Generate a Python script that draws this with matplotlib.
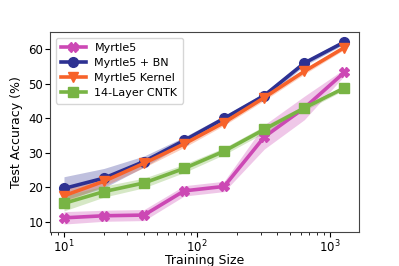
import matplotlib
matplotlib.use("Agg")
import matplotlib.pyplot as plt
import numpy as np

sizes = [10, 20, 40, 80, 160, 320, 640, 1280]

myrtle5 = [11.2, 11.8, 12.0, 19.0, 20.3, 34.6, 43.0, 53.3]
myrtle5_std = [1.8, 1.6, 1.6, 1.5, 1.5, 3.5, 3.4, 1.0]

myrtle5_bn = [19.7, 22.7, 27.5, 33.6, 40.0, 46.6, 56.0, 62.1]
myrtle5_bn_std = [3.4, 2.8, 1.6, 1.0, 0.8, 0.8, 0.8, 0.6]

myrtle5_kernel = [17.6, 21.8, 27.0, 32.6, 38.8, 46.0, 53.6, 60.5]
myrtle5_kernel_std = [1.8, 1.4, 1.2, 1.0, 0.8, 0.8, 0.8, 0.6]

cntk = [15.4, 18.8, 21.3, 25.5, 30.5, 36.8, 43.0, 48.8]
cntk_std = [2.2, 1.6, 1.4, 1.2, 1.0, 1.0, 0.8, 0.6]

labels = ["Myrtle5", "Myrtle5 + BN", "Myrtle5 Kernel", "14-Layer CNTK"]
colors = ["#CC48B4", "#2D3192", "#F7622A", "#78B444"]
markers = ["X", "o", "v", "s"]

fig = plt.figure(figsize=(3.99, 2.66), dpi=100)
ax = fig.add_axes([50 / 399, 34 / 266, 309 / 399, 200 / 266])

series = [(myrtle5, myrtle5_std), (myrtle5_bn, myrtle5_bn_std),
          (myrtle5_kernel, myrtle5_kernel_std), (cntk, cntk_std)]
x = np.array(sizes)
for (m, s), lab, c, mk in zip(series, labels, colors, markers):
    m = np.array(m); s = np.array(s)
    ax.fill_between(x, m - s, m + s, color=c, alpha=0.3, linewidth=0)
    ax.plot(x, m, color=c, marker=mk, markersize=7, linewidth=2.6, label=lab)

ax.set_xscale("log")
ax.set_xlim(7.85, 1650)
ax.set_ylim(7.1, 65)
ax.set_yticks([10, 20, 30, 40, 50, 60])
ax.set_xlabel("Training Size", fontsize=9, labelpad=-1.2)
ax.set_ylabel("Test Accuracy (%)", fontsize=9, labelpad=4)
ax.tick_params(labelsize=8.5, length=3.5, pad=1.5)
ax.tick_params(which="minor", length=2)
for sp in ax.spines.values():
    sp.set_color("#444444")
ax.legend(loc="upper left", fontsize=8, handlelength=2.2, borderpad=0.5,
          labelspacing=0.45)

fig.savefig("out.png", dpi=100)
